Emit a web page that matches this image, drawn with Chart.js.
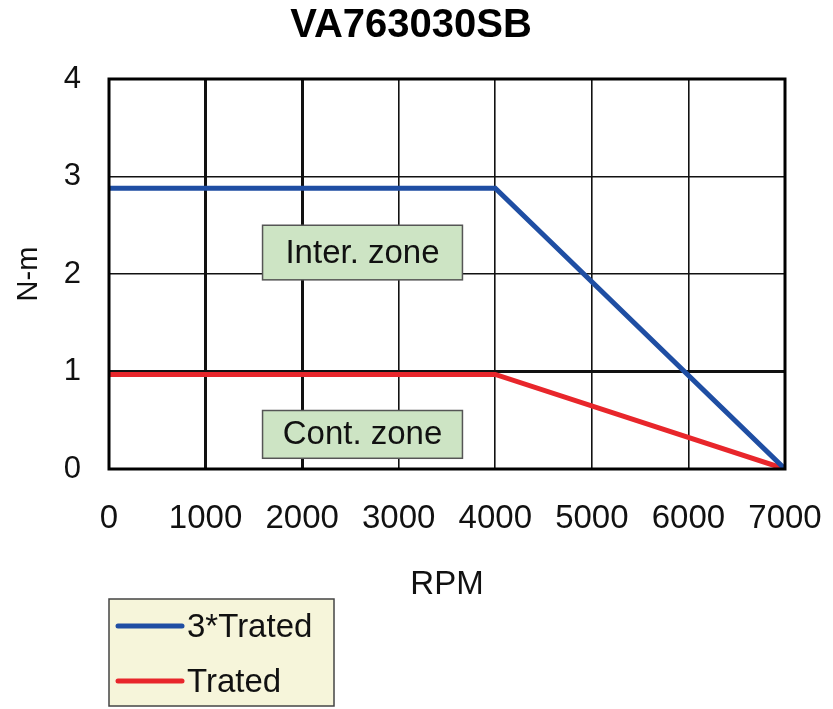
<!DOCTYPE html>
<html>
<head>
<meta charset="utf-8">
<script src="https://cdn.jsdelivr.net/npm/chart.js@4/dist/chart.umd.min.js"></script>
<style>
  html, body { margin: 0; padding: 0; background: #fff; }
  #wrap { width: 833px; height: 709px; }
</style>
</head>
<body>
<div id="wrap"><canvas id="torqueChart" width="833" height="709"></canvas></div>
<script>
// dados
const rpm = [0, 4000, 7000];
const torquePico = [2.88, 2.88, 0];
const torqueNominal = [0.97, 0.97, 0];
const rotulosX = [0, 1000, 2000, 3000, 4000, 5000, 6000, 7000];
const rotulosY = [0, 1, 2, 3, 4];
const titulo = "VA763030SB";

const pontos = (ys) => rpm.map((x, i) => ({ x, y: ys[i] }));

// caixas verdes com o nome das zonas
const zonas = [
  { texto: "Inter. zone", x0: 1590, x1: 3660, y0: 1.94, y1: 2.5 },
  { texto: "Cont. zone", x0: 1590, x1: 3660, y0: 0.11, y1: 0.6 },
];

const fonte = "Arial, 'Liberation Sans', sans-serif";

const pluginMoldura = {
  id: "moldura",
  beforeDatasetsDraw(chart) {
    const { ctx, scales } = chart;
    const sx = scales.x, sy = scales.y;
    ctx.save();
    zonas.forEach((z) => {
      const l = sx.getPixelForValue(z.x0), r = sx.getPixelForValue(z.x1);
      const t = sy.getPixelForValue(z.y1), b = sy.getPixelForValue(z.y0);
      ctx.fillStyle = "#cde4c4";
      ctx.fillRect(l, t, r - l, b - t);
      ctx.strokeStyle = "#555";
      ctx.lineWidth = 1.5;
      ctx.strokeRect(l, t, r - l, b - t);
      ctx.fillStyle = "#111";
      ctx.font = "33px " + fonte;
      ctx.textAlign = "center";
      ctx.textBaseline = "middle";
      ctx.fillText(z.texto, (l + r) / 2, (t + b) / 2 + 1);
    });
    ctx.restore();
  },
  afterDraw(chart) {
    const { ctx, chartArea: a } = chart;
    ctx.save();
    ctx.strokeStyle = "#000";
    ctx.lineWidth = 3;
    ctx.strokeRect(a.left, a.top, a.right - a.left, a.bottom - a.top);

    // titulo
    ctx.fillStyle = "#000";
    ctx.font = "bold 40px " + fonte;
    ctx.textAlign = "center";
    ctx.textBaseline = "middle";
    ctx.fillText(titulo, 411, 26);

    // legenda com fundo bege
    ctx.fillStyle = "#f6f5da";
    ctx.fillRect(109, 599, 225, 107);
    ctx.strokeStyle = "#444";
    ctx.lineWidth = 1.5;
    ctx.strokeRect(109, 599, 225, 107);
    const linhas = [626, 681];
    chart.data.datasets.forEach((ds, i) => {
      ctx.strokeStyle = ds.borderColor;
      ctx.lineWidth = 5;
      ctx.lineCap = "round";
      ctx.beginPath();
      ctx.moveTo(118, linhas[i]);
      ctx.lineTo(182, linhas[i]);
      ctx.stroke();
      ctx.fillStyle = "#111";
      ctx.font = "33px " + fonte;
      ctx.textAlign = "left";
      ctx.textBaseline = "middle";
      ctx.fillText(ds.label, 187, linhas[i] + 2);
    });
    ctx.restore();
  },
};

new Chart(document.getElementById("torqueChart"), {
  type: "line",
  data: {
    datasets: [
      {
        label: "3*Trated",
        data: pontos(torquePico),
        borderColor: "#1f4ea3",
        borderWidth: 5,
        pointRadius: 0,
        tension: 0,
      },
      {
        label: "Trated",
        data: pontos(torqueNominal),
        borderColor: "#e8262b",
        borderWidth: 5,
        pointRadius: 0,
        tension: 0,
      },
    ],
  },
  options: {
    responsive: false,
    animation: false,
    layout: { padding: { left: 0, right: 48, top: 79, bottom: 104 } },
    plugins: {
      legend: { display: false },
      tooltip: { enabled: false },
      title: { display: false },
    },
    scales: {
      x: {
        type: "linear",
        min: 0,
        max: 7000,
        afterBuildTicks: (s) => { s.ticks = rotulosX.map((v) => ({ value: v })); },
        afterFit: (s) => { s.height = 136; s.paddingLeft = 0; s.paddingRight = 0; },
        ticks: {
          color: "#111",
          font: { family: fonte, size: 33 },
          padding: 30,
          maxRotation: 0,
          callback: (v) => String(v),
        },
        grid: {
          color: "#111",
          lineWidth: (c) => ([1000, 2000].includes(c.tick && c.tick.value) ? 3 : 1.6),
          drawTicks: false,
        },
        border: { display: false },
        title: {
          display: true,
          text: "RPM",
          color: "#111",
          font: { family: fonte, size: 33 },
          padding: { top: 0, bottom: 0 },
        },
      },
      y: {
        min: 0,
        max: 4,
        afterBuildTicks: (s) => { s.ticks = rotulosY.map((v) => ({ value: v })); },
        afterFit: (s) => { s.width = 109; s.paddingTop = 0; s.paddingBottom = 0; },
        ticks: {
          color: "#111",
          font: { family: fonte, size: 31 },
          padding: 28,
          callback: (v) => String(v),
        },
        grid: {
          color: "#111",
          lineWidth: (c) => (c.tick && c.tick.value === 1 ? 3 : 1.6),
          drawTicks: false,
        },
        border: { display: false },
        title: {
          display: true,
          text: "N-m",
          color: "#111",
          font: { family: fonte, size: 29 },
          padding: { top: 12, bottom: 0 },
        },
      },
    },
  },
  plugins: [pluginMoldura],
});
</script>
</body>
</html>
